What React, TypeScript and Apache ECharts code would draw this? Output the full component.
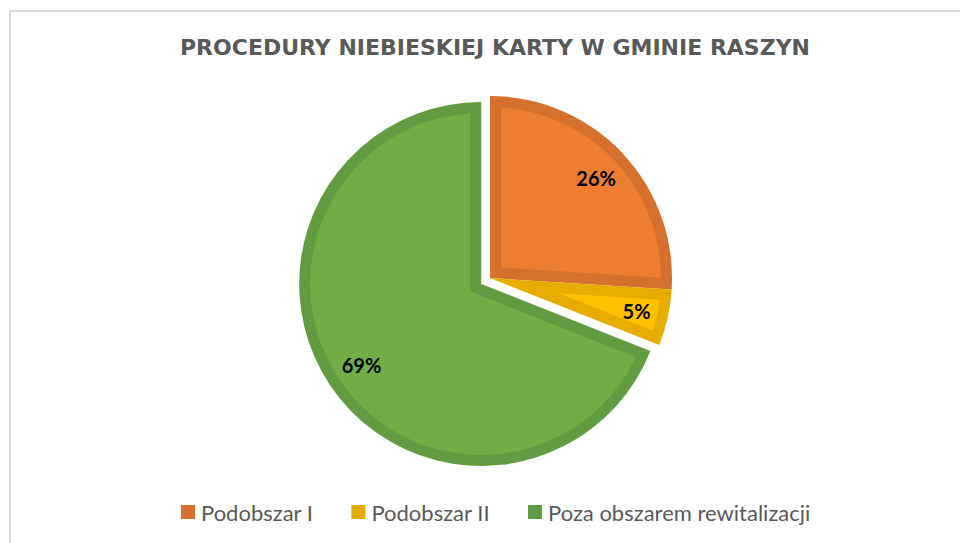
import React, { useEffect, useRef } from "react";
import * as echarts from "echarts";

const titleText = "PROCEDURY NIEBIESKIEJ KARTY W GMINIE RASZYN";
const categories = ["Podobszar I", "Podobszar II", "Poza obszarem rewitalizacji"];
const values = [26, 5, 69];
const fillColors = ["#ED7D31", "#FFC000", "#70AD47"];
const borderColors = ["#D5702D", "#E6AC00", "#629C40"];
const explodedIndex = 2;

const CX = 490;
const CY = 278;
const R = 182;
const BORDER = 11;
const EXPLODE = 10.6;

export default function App() {
  const ref = useRef<HTMLDivElement>(null);

  useEffect(() => {
    document.body.style.margin = "0";
    if (!ref.current) return;
    const chart = echarts.init(ref.current, undefined, { renderer: "svg" });
    const total = values.reduce((a, b) => a + b, 0);

    const sliceAngles = (i: number) => {
      let before = 0;
      for (let k = 0; k < i; k++) before += values[k];
      const a1 = (before / total) * Math.PI * 2;
      const a2 = ((before + values[i]) / total) * Math.PI * 2;
      return [a1, a2];
    };

    const renderItem = (params: any, api: any) => {
      const i = params.dataIndex;
      const v = api.value(0);
      const [a1, a2] = sliceAngles(i);
      const mid = (a1 + a2) / 2;
      const ux = Math.sin(mid);
      const uy = -Math.cos(mid);
      let cx = CX;
      let cy = CY;
      if (i === explodedIndex) {
        cx += ux * EXPLODE;
        cy += uy * EXPLODE;
      }
      const theta = a2 - a1;
      const apexDist = BORDER / Math.sin(theta / 2);
      const pts: number[][] = [[cx + ux * apexDist, cy + uy * apexDist]];
      const Ri = R - BORDER;
      const delta = Math.asin(BORDER / Ri);
      const s = a1 + delta;
      const e = a2 - delta;
      const steps = Math.max(8, Math.ceil(((e - s) * 180) / Math.PI / 2));
      for (let k = 0; k <= steps; k++) {
        const a = s + ((e - s) * k) / steps;
        pts.push([cx + Ri * Math.sin(a), cy - Ri * Math.cos(a)]);
      }
      const label = Math.round((v / total) * 100) + "%";
      const w = (label.length - 1) * 11.5 + 17;
      const h = 17;
      const extent = (w / 2) * Math.abs(ux) + (h / 2) * Math.abs(uy);
      const ld = R - 16 - extent;
      return {
        type: "group",
        children: [
          {
            type: "polygon",
            shape: { points: pts },
            style: { fill: fillColors[i], stroke: null },
            silent: true,
          },
          {
            type: "text",
            x: cx + ux * ld,
            y: cy + uy * ld,
            style: {
              text: label,
              fill: "#000000",
              font: "bold 20px Lato",
              align: "center",
              verticalAlign: "middle",
            },
            silent: true,
          },
        ],
      };
    };

    chart.setOption({
      animation: false,
      backgroundColor: "#ffffff",
      title: {
        text: titleText,
        left: 495,
        top: 35,
        padding: 0,
        textAlign: "center",
        textStyle: {
          fontFamily: "DejaVu Sans",
          fontWeight: "bold",
          fontSize: 22,
          color: "#595959",
          lineHeight: 24,
        },
      },
      legend: {
        data: categories,
        left: 181,
        top: 501,
        padding: 0,
        icon: "rect",
        itemWidth: 14,
        itemHeight: 14,
        itemGap: 38,
        textStyle: {
          fontFamily: "Lato",
          fontSize: 22,
          color: "#595959",
          padding: [0, 0, 0, 1],
        },
        selectedMode: false,
      },
      graphic: [
        {
          type: "rect",
          shape: { x: 10, y: 11, width: 1000, height: 600 },
          style: { fill: "none", stroke: "#D9D9D9", lineWidth: 2 },
          silent: true,
          z: 0,
        },
      ],
      series: [
        {
          type: "pie",
          name: "main",
          center: [CX, CY],
          radius: [0, R],
          startAngle: 90,
          clockwise: true,
          selectedMode: "single",
          selectedOffset: EXPLODE,
          label: { show: false },
          labelLine: { show: false },
          emphasis: { disabled: true },
          itemStyle: { borderWidth: 0 },
          data: categories.map((name, i) => ({
            name,
            value: values[i],
            selected: i === explodedIndex,
            itemStyle: { color: borderColors[i] },
          })),
          z: 2,
        },
        {
          type: "custom",
          coordinateSystem: "none",
          renderItem,
          data: values.map((v) => [v]),
          silent: true,
          z: 3,
        },
      ],
    });
    return () => chart.dispose();
  }, []);

  return <div ref={ref} style={{ width: 960, height: 543 }} />;
}
